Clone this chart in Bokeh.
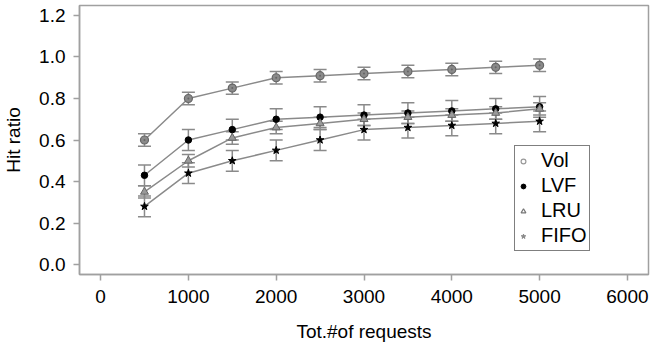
from bokeh.plotting import figure
from bokeh.models import ColumnDataSource, Whisker, TeeHead, Legend, LegendItem, FixedTicker
from bokeh.embed import file_html
from bokeh.resources import INLINE

requests = [500, 1000, 1500, 2000, 2500, 3000, 3500, 4000, 4500, 5000]
vol = [0.60, 0.80, 0.85, 0.90, 0.91, 0.92, 0.93, 0.94, 0.95, 0.96]
lvf = [0.43, 0.60, 0.65, 0.70, 0.71, 0.72, 0.73, 0.74, 0.75, 0.76]
lru = [0.35, 0.50, 0.61, 0.66, 0.68, 0.70, 0.71, 0.72, 0.73, 0.75]
fifo = [0.28, 0.44, 0.50, 0.55, 0.60, 0.65, 0.66, 0.67, 0.68, 0.69]
err_vol = 0.03
err_lvf = 0.05
err_lru = 0.03
err_fifo = 0.05
x_ticks = [0, 1000, 2000, 3000, 4000, 5000, 6000]
y_ticks = [0.0, 0.2, 0.4, 0.6, 0.8, 1.0, 1.2]

FONT = "Liberation Sans"
GREY = "#8a8a8a"
AXIS_GREY = "#a0a0a0"

p = figure(width=654, height=347, output_backend="svg", toolbar_location=None,
           x_range=(-240, 6240), y_range=(-0.048, 1.248))
p.min_border_left = 78
p.min_border_right = 6
p.min_border_top = 5
p.min_border_bottom = 73
p.grid.visible = False
p.outline_line_color = AXIS_GREY
p.outline_line_width = 1.5

series = [
    ("Vol", vol, err_vol, dict(marker="circle_dot", size=8, fill_color="#8a8a8a", line_color="#666666", line_width=1.2),
     dict(marker="circle", size=5, fill_color="white", line_color="#999999", line_width=1.2)),
    ("LVF", lvf, err_lvf, dict(marker="circle", size=6.5, fill_color="black", line_color="black"),
     dict(marker="circle", size=4, fill_color="black", line_color="black")),
    ("LRU", lru, err_lru, dict(marker="triangle", size=8, fill_color="#9a9a9a", line_color="#666666"),
     dict(marker="triangle", size=6, fill_color="white", line_color="#777777", line_width=1.2)),
    ("FIFO", fifo, err_fifo, dict(marker="star", size=8, fill_color="black", line_color="black"),
     dict(marker="star", size=7, fill_color="#888888", line_color="#888888")),
]

items = []
for name, vals, err, style, lstyle in series:
    src = ColumnDataSource(dict(x=requests, y=vals,
                                lo=[v - err for v in vals], hi=[v + err for v in vals]))
    p.line("x", "y", source=src, line_color=GREY, line_width=1.5)
    w = Whisker(source=src, base="x", lower="lo", upper="hi", line_color=GREY, line_width=1.5,
                upper_head=TeeHead(size=13, line_color=GREY, line_width=1.5),
                lower_head=TeeHead(size=13, line_color=GREY, line_width=1.5))
    p.add_layout(w)
    p.scatter("x", "y", source=src, **style)
    lr = p.scatter(x=[float("nan")], y=[float("nan")], **lstyle)
    items.append(LegendItem(label=name, renderers=[lr]))

legend = Legend(items=items, location=(435, 23), border_line_color="black", border_line_width=1,
                padding=2, margin=0, spacing=0, label_text_font=FONT, label_text_font_size="20px",
                label_text_color="black",
                label_height=25, glyph_height=24, glyph_width=12, label_standoff=12,
                background_fill_alpha=1)
p.add_layout(legend, "center")

for ax in (p.xaxis[0], p.yaxis[0]):
    ax.axis_line_color = AXIS_GREY
    ax.axis_line_width = 1.5
    ax.major_tick_line_color = AXIS_GREY
    ax.major_tick_line_width = 1.5
    ax.major_tick_out = 6
    ax.major_tick_in = 0
    ax.minor_tick_line_color = None
    ax.major_label_text_font = FONT
    ax.major_label_text_font_size = "19px"
    ax.major_label_text_color = "black"
    ax.axis_label_text_font = FONT
    ax.axis_label_text_font_size = "19px"
    ax.axis_label_text_font_style = "normal"
    ax.axis_label_text_color = "black"

p.xaxis.ticker = FixedTicker(ticks=x_ticks)
p.yaxis.ticker = FixedTicker(ticks=y_ticks)
p.yaxis.major_label_overrides = {t: f"{t:.1f}" for t in y_ticks}
p.xaxis.axis_label = "Tot.#of requests"
p.yaxis.axis_label = "Hit ratio"
p.xaxis.major_label_standoff = 9
p.xaxis.axis_label_standoff = 15
p.yaxis.major_label_standoff = 8
p.yaxis.axis_label_standoff = 12

open("out.html", "w").write(file_html(p, INLINE))
